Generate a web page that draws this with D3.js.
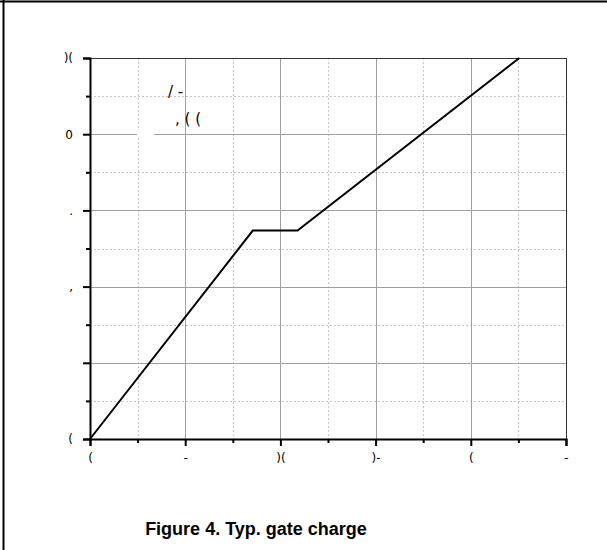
<!DOCTYPE html>
<html><head><meta charset="utf-8">
<script src="https://cdn.jsdelivr.net/npm/d3@7"></script>
<style>body{margin:0;background:#fff}svg{display:block}</style>
</head><body>
<script>
// Data (gate charge curve)
const chargeNC = [0, 8.55, 10.9, 22.55];
const gateV = [0, 5.47, 5.47, 10];
const xTicks = [0, 5, 10, 15, 20, 25];
const xTickLabels = ["(", "-", ")(", ")-", "(", "-"];
const yTicks = [0, 2, 4, 6, 8, 10];
const yTickLabels = ["(", "", ",", ".", "0", ")("];
const xMinor = [2.5, 7.5, 12.5, 17.5, 22.5];
const yMinor = [1, 3, 5, 7, 9];
const annotLines = ["/ -", ", ( ("];
const title = "Figure 4. Typ. gate charge";

const W = 607, H = 550;
const svg = d3.select("body").append("svg").attr("width", W).attr("height", H);

// outer frame
svg.append("line").attr("x1", 0).attr("x2", W).attr("y1", 1.5).attr("y2", 1.5).attr("stroke", "#000").attr("stroke-width", 2);
svg.append("line").attr("x1", 3.5).attr("x2", 3.5).attr("y1", 0).attr("y2", H).attr("stroke", "#000").attr("stroke-width", 2);

const x = d3.scaleLinear().domain([0, 25]).range([90, 566]);
const y = d3.scaleLinear().domain([0, 10]).range([439, 58]);

// minor grid
const g = svg.append("g");
g.selectAll(".vmin").data(xMinor).join("line")
  .attr("x1", d => Math.round(x(d)) + 0.5).attr("x2", d => Math.round(x(d)) + 0.5)
  .attr("y1", y(10)).attr("y2", y(0))
  .attr("stroke", "#c8c8c8").attr("stroke-dasharray", "2,2");
g.selectAll(".hmin").data(yMinor).join("line")
  .attr("y1", d => Math.round(y(d)) + 0.5).attr("y2", d => Math.round(y(d)) + 0.5)
  .attr("x1", x(0)).attr("x2", x(25))
  .attr("stroke", "#c8c8c8").attr("stroke-dasharray", "2,2");

// annotation white boxes (cover minor grid and horizontal major grid)
svg.append("rect").attr("x", 112).attr("y", 84).attr("width", 101).attr("height", 18).attr("fill", "#fff");
svg.append("rect").attr("x", 160).attr("y", 108).attr("width", 53).attr("height", 20).attr("fill", "#fff");
svg.append("rect").attr("x", 137).attr("y", 121).attr("width", 17).attr("height", 19).attr("fill", "#fff");

// major grid
g.raise();
svg.selectAll(".hmaj").data(yTicks.slice(1, -1)).join("line")
  .attr("y1", d => Math.round(y(d)) + 0.5).attr("y2", d => Math.round(y(d)) + 0.5)
  .attr("x1", x(0)).attr("x2", x(25))
  .attr("stroke", "#a0a0a0");
// white gap over the y=8 line near the annotation
svg.append("rect").attr("x", 137).attr("y", 130).attr("width", 17).attr("height", 8).attr("fill", "#fff");
svg.selectAll(".vmaj").data(xTicks.slice(1, -1)).join("line")
  .attr("x1", d => Math.round(x(d)) + 0.5).attr("x2", d => Math.round(x(d)) + 0.5)
  .attr("y1", y(10)).attr("y2", y(0))
  .attr("stroke", "#a0a0a0");

// plot frame top/right
svg.append("line").attr("x1", x(0)).attr("x2", x(25)).attr("y1", 58.5).attr("y2", 58.5).attr("stroke", "#333");
svg.append("line").attr("x1", 566.5).attr("x2", 566.5).attr("y1", 58).attr("y2", 439).attr("stroke", "#333");

// axes
const xAxis = d3.axisBottom(x).tickValues(xTicks).tickSize(7).tickFormat((d, i) => xTickLabels[i]).tickPadding(7);
const xAxisMinor = d3.axisBottom(x).tickValues(xMinor).tickSize(4).tickFormat("");
const yAxis = d3.axisLeft(y).tickValues(yTicks).tickSize(7).tickFormat((d, i) => yTickLabels[i]).tickPadding(10);
const yAxisMinor = d3.axisLeft(y).tickValues(yMinor).tickSize(4).tickFormat("");

function style(sel) {
  sel.select(".domain").attr("stroke", "#000").attr("stroke-width", 2);
  sel.selectAll(".tick line").attr("stroke", "#000").attr("stroke-width", 2);
  sel.selectAll("text").attr("font-family", "DejaVu Sans, sans-serif").attr("font-size", 12).attr("fill", "#000");
}
svg.append("g").attr("transform", "translate(0,439)").call(xAxisMinor).call(style).select(".domain").remove();
svg.append("g").attr("transform", "translate(90,0)").call(yAxisMinor).call(style).select(".domain").remove();
svg.append("g").attr("transform", "translate(0,439)").call(xAxis).call(style);
svg.append("g").attr("transform", "translate(90,0)").call(yAxis).call(style);

// curve
const pts = chargeNC.map((c, i) => [c, gateV[i]]);
svg.append("path").datum(pts)
  .attr("d", d3.line().x(d => x(d[0])).y(d => y(d[1])))
  .attr("fill", "none").attr("stroke", "#000").attr("stroke-width", 2);

// annotation text
svg.append("text").attr("x", 168).attr("y", 97)
  .attr("font-family", "DejaVu Sans, sans-serif").attr("font-size", 15).text(annotLines[0]);
svg.append("text").attr("x", 175).attr("y", 124)
  .attr("font-family", "DejaVu Sans, sans-serif").attr("font-size", 15).text(annotLines[1]);

// title
svg.append("text").attr("x", 256).attr("y", 535).attr("text-anchor", "middle")
  .attr("font-family", "Liberation Sans, Arial, sans-serif").attr("font-weight", "bold").attr("font-size", 18)
  .text(title);
</script>
</body></html>
